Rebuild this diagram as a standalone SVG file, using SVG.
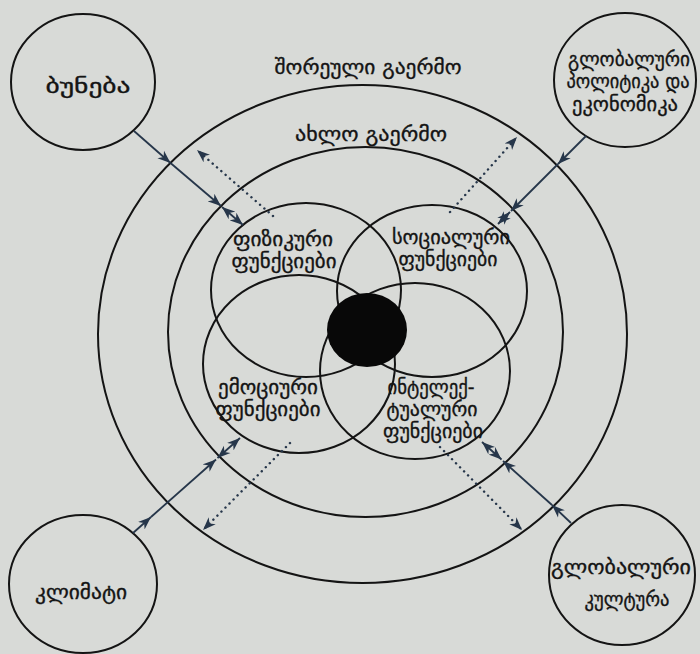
<svg xmlns="http://www.w3.org/2000/svg" width="700" height="654" viewBox="0 0 700 654">
<style>
.ring{fill:none;stroke:#141414;stroke-width:2}
.t{font-family:"DejaVu Sans",sans-serif;font-size:20px;fill:#141414;stroke:#141414;stroke-width:0.35;text-anchor:middle}
.arr{fill:none;stroke:#26364a;stroke-width:1.8}
.dot{fill:none;stroke:#26364a;stroke-width:2.4;stroke-dasharray:0.1 5.6;stroke-linecap:round}
</style>
<defs>
<marker id="ah" markerUnits="userSpaceOnUse" markerWidth="15" markerHeight="11" refX="13" refY="5.5" orient="auto-start-reverse" viewBox="0 0 15 11">
<path d="M0,0.5 L13,5.5 L0,10.5 L3.8,5.5 z" fill="#26364a"/>
</marker>
<marker id="ahd" markerUnits="userSpaceOnUse" markerWidth="15" markerHeight="11" refX="13" refY="5.5" orient="auto" viewBox="0 0 15 11">
<path d="M0,0.5 L13,5.5 L0,10.5 L3.8,5.5 z" fill="#26364a"/>
</marker>
</defs>
<rect width="700" height="654" fill="#d8dad7"/>

<g id="far-environment">
<ellipse class="ring" cx="362.5" cy="334" rx="264.5" ry="249"/>
<text class="t" x="368" y="74" textLength="187" lengthAdjust="spacingAndGlyphs">შორეული გაერმო</text>
</g>
<g id="near-environment">
<ellipse class="ring" cx="365.5" cy="332" rx="197.5" ry="185"/>
<text class="t" x="371" y="141" textLength="152" lengthAdjust="spacingAndGlyphs">ახლო გაერმო</text>
</g>

<g id="physical">
<ellipse class="ring" cx="306" cy="290" rx="95" ry="87"/>
<text class="t" x="283" y="246" textLength="100" lengthAdjust="spacingAndGlyphs">ფიზიკური</text>
<text class="t" x="284" y="268" textLength="105" lengthAdjust="spacingAndGlyphs">ფუნქციები</text>
</g>
<g id="social">
<ellipse class="ring" cx="432" cy="291" rx="95" ry="86"/>
<text class="t" x="451" y="244" textLength="118" lengthAdjust="spacingAndGlyphs">სოციალური</text>
<text class="t" x="448" y="266" textLength="99" lengthAdjust="spacingAndGlyphs">ფუნქციები</text>
</g>
<g id="emotional">
<ellipse class="ring" cx="299" cy="364" rx="96" ry="89"/>
<text class="t" x="268" y="394" textLength="100" lengthAdjust="spacingAndGlyphs">ემოციური</text>
<text class="t" x="268" y="416" textLength="105" lengthAdjust="spacingAndGlyphs">ფუნქციები</text>
</g>
<g id="intellectual">
<ellipse class="ring" cx="415" cy="371" rx="95" ry="88"/>
<text class="t" x="431" y="394" textLength="87" lengthAdjust="spacingAndGlyphs">ინტელექ-</text>
<text class="t" x="432" y="416" textLength="91" lengthAdjust="spacingAndGlyphs">ტუალური</text>
<text class="t" x="433" y="438" textLength="100" lengthAdjust="spacingAndGlyphs">ფუნქციები</text>
</g>
<g id="core">
<ellipse cx="367" cy="330" rx="40" ry="37" fill="#080808"/>
</g>

<g id="nature">
<ellipse class="ring" cx="83" cy="82" rx="72" ry="68"/>
<text class="t" x="88" y="93" textLength="85" lengthAdjust="spacingAndGlyphs">ბუნება</text>
</g>
<g id="global-politics">
<ellipse class="ring" cx="625" cy="80" rx="71" ry="67"/>
<text class="t" x="629" y="66" textLength="122" lengthAdjust="spacingAndGlyphs">გლობალური</text>
<text class="t" x="628" y="88" textLength="123" lengthAdjust="spacingAndGlyphs">პოლიტიკა და</text>
<text class="t" x="625" y="111" textLength="106" lengthAdjust="spacingAndGlyphs">ეკონომიკა</text>
</g>
<g id="climate">
<ellipse class="ring" cx="83" cy="584" rx="74" ry="69"/>
<text class="t" x="81" y="599" textLength="92" lengthAdjust="spacingAndGlyphs">კლიმატი</text>
</g>
<g id="global-culture">
<ellipse class="ring" cx="622" cy="575" rx="73" ry="70"/>
<text class="t" x="621" y="574" textLength="140" lengthAdjust="spacingAndGlyphs">გლობალური</text>
<text class="t" x="627" y="606" textLength="85" lengthAdjust="spacingAndGlyphs">კულტურა</text>
</g>

<g id="connectors">
<path class="arr" d="M134,131 L170.5,163" marker-end="url(#ah)"/>
<path class="arr" d="M170.5,163 L221,206" marker-end="url(#ah)"/>
<path class="arr" d="M222,207 L243,225" marker-start="url(#ah)" marker-end="url(#ah)"/>
<path class="dot" d="M273,216 L197,150" marker-end="url(#ahd)"/>

<path class="arr" d="M586,136 L558,164" marker-end="url(#ah)"/>
<path class="arr" d="M558,164 L511,211" marker-end="url(#ah)"/>
<path class="arr" d="M510,212 L498,224" marker-start="url(#ah)" marker-end="url(#ah)"/>
<path class="dot" d="M450,212 L517,137" marker-end="url(#ahd)"/>

<path class="arr" d="M133,533 L151,517" marker-end="url(#ah)"/>
<path class="arr" d="M151,517 L216,459.5" marker-end="url(#ah)"/>
<path class="arr" d="M217.5,458 L240,438" marker-start="url(#ah)" marker-end="url(#ah)"/>
<path class="dot" d="M290,443 L203,530" marker-end="url(#ahd)"/>

<path class="arr" d="M571,523 L552,505" marker-end="url(#ah)"/>
<path class="arr" d="M552,505 L503,461" marker-end="url(#ah)"/>
<path class="arr" d="M501.5,459.5 L482,442" marker-start="url(#ah)" marker-end="url(#ah)"/>
<path class="dot" d="M440,447 L522,530" marker-end="url(#ahd)"/>
</g>
</svg>
